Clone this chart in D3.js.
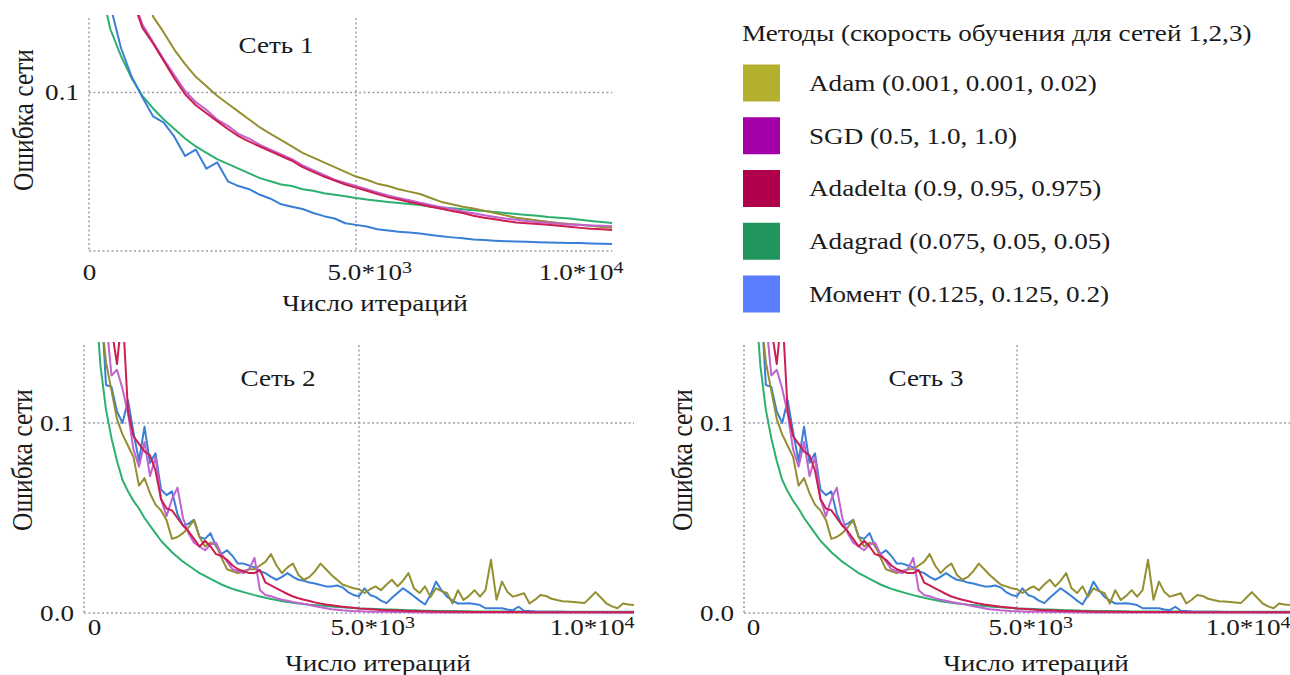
<!DOCTYPE html>
<html>
<head>
<meta charset="utf-8">
<script src="https://cdn.jsdelivr.net/npm/d3@7"></script>
<style>
body { margin: 0; background: #fff; }
svg { display: block; font-family: "Liberation Serif", "Times New Roman", serif; }
</style>
</head>
<body>
<svg width="1290" height="675"></svg>
<script>
// ---- data ----
// net 1: one point every 200 iterations, 0 .. 9800
var step1 = 200;
var adam1 = [0.40,0.33,0.28,0.24,0.205,0.175,0.148,0.138,0.127,0.118,
  0.110,0.104,0.098,0.093,0.088,0.083,0.078,0.074,0.070,0.066,
  0.062,0.059,0.056,0.053,0.050,0.047,0.045,0.0425,0.041,0.039,
  0.0375,0.036,0.0335,0.031,0.0295,0.028,0.0268,0.0255,0.024,0.0225,
  0.021,0.0202,0.0193,0.0184,0.0177,0.017,0.0165,0.016,0.0152,0.0146];
var sgd1 = [0.40,0.31,0.25,0.20,0.163,0.143,0.132,0.121,0.111,0.101,
  0.094,0.089,0.083,0.079,0.074,0.071,0.067,0.064,0.061,0.058,
  0.054,0.051,0.048,0.045,0.043,0.041,0.039,0.037,0.035,0.0335,
  0.032,0.0305,0.029,0.0277,0.0265,0.025,0.0238,0.0226,0.0215,0.0205,
  0.0197,0.019,0.0183,0.0178,0.0172,0.0168,0.0164,0.0161,0.0159,0.0157];
var adadelta1 = [0.40,0.31,0.25,0.20,0.16,0.141,0.131,0.120,0.109,0.099,
  0.092,0.087,0.082,0.077,0.0725,0.069,0.066,0.063,0.060,0.057,
  0.053,0.050,0.047,0.0445,0.042,0.040,0.038,0.036,0.034,0.0325,
  0.031,0.0295,0.028,0.0267,0.0253,0.024,0.0223,0.021,0.020,0.019,
  0.018,0.0175,0.017,0.0165,0.016,0.0153,0.0146,0.014,0.0137,0.0133];
var adagrad1 = [0.30,0.17,0.14,0.123,0.109,0.098,0.090,0.083,0.077,0.071,
  0.066,0.062,0.058,0.055,0.052,0.049,0.046,0.044,0.042,0.041,
  0.039,0.038,0.0365,0.0355,0.0345,0.0335,0.0325,0.0317,0.031,0.0303,
  0.0296,0.029,0.028,0.0275,0.027,0.0264,0.0258,0.0252,0.0246,0.024,
  0.0234,0.0228,0.0222,0.0215,0.021,0.0205,0.0198,0.019,0.0183,0.0177];
var moment1 = [0.30,0.19,0.155,0.128,0.110,0.097,0.085,0.081,0.072,0.060,
  0.064,0.052,0.056,0.044,0.041,0.039,0.0355,0.033,0.0295,0.028,
  0.0265,0.024,0.022,0.0205,0.0175,0.0165,0.0155,0.0137,0.013,0.0122,
  0.0117,0.011,0.0101,0.0093,0.0086,0.008,0.0073,0.0069,0.0065,0.0062,
  0.006,0.0058,0.0056,0.0054,0.0052,0.0051,0.005,0.0048,0.0046,0.0044];

// net 2 (net 3 is drawn the same): one point every 100 iterations, 0 .. 10000
var step2 = 100;
var adam2 = [0.45,0.30,0.21,0.16,0.132,0.117,0.102,0.094,0.088,0.082,
  0.067,0.071,0.063,0.057,0.054,0.049,0.039,0.040,0.042,0.045,
  0.049,0.040,0.035,0.037,0.036,0.029,0.023,0.022,0.021,0.022,
  0.023,0.023,0.025,0.027,0.031,0.025,0.021,0.024,0.026,0.020,
  0.0175,0.019,0.022,0.026,0.023,0.020,0.0175,0.015,0.014,0.013,
  0.0125,0.0105,0.0125,0.014,0.012,0.015,0.0175,0.014,0.017,0.021,
  0.013,0.0105,0.014,0.0085,0.013,0.0115,0.0105,0.005,0.012,0.0068,
  0.009,0.012,0.0086,0.012,0.028,0.007,0.0165,0.011,0.0086,0.0095,
  0.0104,0.005,0.007,0.0095,0.009,0.0075,0.0068,0.0062,0.006,0.0058,
  0.0055,0.0052,0.008,0.011,0.008,0.005,0.0035,0.0025,0.005,0.0045,
  0.0042];
var sgd2 = [0.50,0.35,0.25,0.19,0.155,0.125,0.128,0.118,0.105,0.086,
  0.077,0.090,0.072,0.082,0.060,0.051,0.060,0.066,0.050,0.042,
  0.037,0.035,0.033,0.036,0.037,0.031,0.027,0.023,0.022,0.021,
  0.023,0.029,0.012,0.0095,0.0088,0.0078,0.007,0.0064,0.0058,0.0053,
  0.0048,0.0042,0.0036,0.003,0.0025,0.002,0.0017,0.0014,0.0012,0.001,
  0.0009,0.0008,0.0007,0.0007,0.0006,0.0006,0.0005,0.0005,0.0005,0.0004,
  0.0004,0.0004,0.0004,0.0003,0.0003,0.0003,0.0003,0.0003,0.0003,0.0003,
  0.0003,0.0003,0.0003,0.0002,0.0002,0.0002,0.0002,0.0002,0.0002,0.0002,
  0.0002,0.0002,0.0002,0.0002,0.0002,0.0002,0.0002,0.0002,0.0002,0.0002,
  0.0002,0.0002,0.0002,0.0002,0.0002,0.0002,0.0002,0.0002,0.0002,0.0002,
  0.0002];
var adadelta2 = [0.60,0.45,0.33,0.25,0.19,0.15,0.131,0.16,0.106,0.093,
  0.089,0.085,0.083,0.075,0.060,0.055,0.054,0.050,0.046,0.043,
  0.039,0.035,0.038,0.035,0.031,0.030,0.028,0.025,0.023,0.022,
  0.021,0.021,0.0226,0.016,0.0145,0.013,0.0115,0.010,0.0087,0.0078,
  0.007,0.0063,0.0056,0.005,0.0045,0.0041,0.0037,0.0033,0.003,0.0027,
  0.0024,0.0022,0.002,0.0018,0.0016,0.0015,0.0014,0.0013,0.0012,0.0011,
  0.001,0.0009,0.0009,0.0008,0.0008,0.0007,0.0007,0.0006,0.0006,0.0006,
  0.0005,0.0005,0.0005,0.0005,0.0005,0.0005,0.0005,0.0005,0.0005,0.0005,
  0.0005,0.0004,0.0004,0.0004,0.0004,0.0004,0.0004,0.0004,0.0004,0.0004,
  0.0004,0.0004,0.0004,0.0004,0.0004,0.0004,0.0004,0.0004,0.0004,0.0004,
  0.0004];
var adagrad2 = [0.40,0.25,0.17,0.13,0.107,0.092,0.080,0.070,0.064,0.059,
  0.055,0.050,0.046,0.042,0.038,0.035,0.032,0.0295,0.027,0.025,
  0.023,0.021,0.0195,0.018,0.0165,0.015,0.0138,0.0127,0.0118,0.011,
  0.0102,0.0094,0.0087,0.008,0.0074,0.0068,0.0062,0.0058,0.0054,0.005,
  0.0047,0.0044,0.0042,0.004,0.0037,0.0034,0.0032,0.003,0.0028,0.0026,
  0.0024,0.0023,0.0022,0.0021,0.002,0.0019,0.0018,0.0017,0.0016,0.0015,
  0.0014,0.0013,0.0012,0.0012,0.0011,0.0011,0.001,0.001,0.0009,0.0009,
  0.0009,0.0008,0.0008,0.0008,0.0008,0.0008,0.0008,0.0008,0.0008,0.0008,
  0.0008,0.0007,0.0007,0.0007,0.0007,0.0007,0.0007,0.0007,0.0007,0.0007,
  0.0007,0.0006,0.0006,0.0006,0.0006,0.0006,0.0006,0.0006,0.0006,0.0006,
  0.0006];
var moment2 = [0.50,0.35,0.24,0.17,0.120,0.119,0.106,0.100,0.112,0.095,
  0.080,0.098,0.079,0.084,0.065,0.062,0.064,0.052,0.046,0.047,
  0.049,0.040,0.039,0.042,0.035,0.031,0.033,0.030,0.026,0.026,
  0.025,0.024,0.022,0.021,0.019,0.0175,0.019,0.021,0.019,0.0175,
  0.017,0.016,0.0155,0.0147,0.014,0.0139,0.0145,0.0135,0.011,0.0095,
  0.0088,0.013,0.0095,0.0085,0.0065,0.0052,0.008,0.0105,0.013,0.011,
  0.0088,0.0065,0.0045,0.0095,0.0165,0.012,0.0086,0.0065,0.005,0.005,
  0.0051,0.0047,0.0042,0.0025,0.0025,0.0025,0.0025,0.0018,0.0015,0.0033,
  0.0012,0.001,0.0008,0.0007,0.0006,0.0006,0.0006,0.0006,0.0005,0.0005,
  0.0005,0.0005,0.0005,0.0005,0.0005,0.0004,0.0004,0.0004,0.0004,0.0004,
  0.0004];

var methods = ["Adam", "SGD", "Adadelta", "Adagrad", "Момент"];
var rates = ["(0.001, 0.001, 0.02)", "(0.5, 1.0, 1.0)", "(0.9, 0.95, 0.975)",
  "(0.075, 0.05, 0.05)", "(0.125, 0.125, 0.2)"];
var swatchColors = ["#b2b02c", "#a200a8", "#b0004c", "#20955d", "#5a7cff"];
var lineColors = ["#948f30", "#c262d0", "#cc1e50", "#2cb06e", "#3a7fd6"];
var legendTitle = "Методы (скорость обучения для сетей 1,2,3)";
var xTicks = [0, 5000, 10000];
var xTitle = "Число итераций";
var yTitle = "Ошибка сети";

var svg = d3.select("svg");
var ink = "#1a1a1a";
var gridColor = "#9d9dae";
var sx = 1.18;   // the source picture is stretched sideways, so is its text

// text drawn at (x, y), widened by sx around its anchor
function wideText(parent, x, y, str, size, anchor) {
  return parent.append("g").attr("transform", "translate(" + x + "," + y + ") scale(" + sx + ",1)")
    .append("text").attr("text-anchor", anchor || "start").attr("dominant-baseline", "central")
    .attr("font-size", size).attr("fill", ink).text(str);
}

function drawPanel(p) {
  var x = d3.scaleLinear().domain([0, 10000]).range([p.left, p.x10k]);
  var y = d3.scaleLinear().domain([0, p.yMax]).range([p.bottom, p.top]);
  var right = x(p.xEnd);
  var g = svg.append("g");

  // dotted grid
  g.selectAll(".vgrid").data([0, 5000]).enter().append("line")
    .attr("x1", function(d) { return x(d); }).attr("x2", function(d) { return x(d); })
    .attr("y1", p.top + 3).attr("y2", p.bottom)
    .attr("stroke", gridColor).attr("stroke-width", 1.5).attr("stroke-dasharray", "2,2.5");
  g.selectAll(".hgrid").data([0, 0.1]).enter().append("line")
    .attr("x1", p.left).attr("x2", right)
    .attr("y1", function(d) { return y(d); }).attr("y2", function(d) { return y(d); })
    .attr("stroke", gridColor).attr("stroke-width", 1.5).attr("stroke-dasharray", "2,2.5");

  // y axis labels
  var gy = g.append("g").attr("transform", "translate(" + p.left + ",0)")
    .call(d3.axisLeft(y).tickValues(p.yTicks).tickSize(0).tickPadding(10).tickFormat(d3.format(".1f")));
  gy.select(".domain").remove();
  gy.selectAll(".tick text")
    .attr("font-size", 23).attr("fill", ink).attr("font-family", "Liberation Serif, serif")
    .attr("x", -10 / sx).attr("transform", "scale(" + sx + ",1)");

  // x axis labels
  var gx = g.append("g").attr("transform", "translate(0," + p.bottom + ")")
    .call(d3.axisBottom(x).tickValues(xTicks).tickSize(0).tickFormat(function() { return ""; }));
  gx.select(".domain").remove();
  gx.selectAll(".tick text").each(function(d) {
    var t = d3.select(this).attr("font-size", 23).attr("fill", ink)
      .attr("font-family", "Liberation Serif, serif")
      .attr("transform", "scale(" + sx + ",1)")
      .attr("y", p.xLabelY).attr("dy", "0.35em");
    if (d === 0) {
      t.attr("text-anchor", "middle").attr("x", p.zeroDx / sx).text("0");
    } else {
      t.attr("text-anchor", d === 5000 ? "start" : "end").attr("x", d === 5000 ? -29 / sx : 0);
      t.append("tspan").text(d === 5000 ? "5.0*10" : "1.0*10");
      t.append("tspan").attr("dy", "-0.42em").attr("font-size", 17).text(d === 5000 ? "3" : "4");
    }
  });

  // clip + lines
  var clipId = "clip" + p.id;
  svg.append("clipPath").attr("id", clipId).append("rect")
    .attr("x", p.left).attr("y", p.top).attr("width", right - p.left).attr("height", p.bottom - p.top + 2);
  var line = d3.line()
    .x(function(d) { return x(d[0]); })
    .y(function(d) { return y(d[1]); });
  var order = [3, 4, 0, 1, 2];
  g.append("g").attr("clip-path", "url(#" + clipId + ")")
    .selectAll("path").data(order).enter().append("path")
    .attr("d", function(k) {
      return line(p.series[k].map(function(v, i) { return [i * p.step, v]; }));
    })
    .attr("fill", "none")
    .attr("stroke", function(k) { return lineColors[k]; })
    .attr("stroke-width", 2)
    .attr("stroke-linejoin", "round");

  // titles
  wideText(g, p.titlePos[0], p.titlePos[1], p.title, 23, "middle");
  wideText(g, x(5000) + 19, p.bottom + p.xTitleDy, xTitle, 23, "middle");
  g.append("text")
    .attr("transform", "translate(" + p.yTitlePos[0] + "," + p.yTitlePos[1] + ") rotate(-90) scale(1," + sx + ")")
    .attr("text-anchor", "middle").attr("dominant-baseline", "central")
    .attr("font-size", 25.5).attr("fill", ink).text(yTitle);
}

drawPanel({ id: 1, left: 89, x10k: 623, xEnd: 9800, top: 15, bottom: 251, yMax: 0.149,
  yTicks: [0.1], step: step1, series: [adam1, sgd1, adadelta1, adagrad1, moment1],
  xLabelY: 21, zeroDx: 0, xTitleDy: 52, title: "Сеть 1", titlePos: [276, 45], yTitlePos: [23, 120] });
drawPanel({ id: 2, left: 84, x10k: 634, xEnd: 10000, top: 342, bottom: 613, yMax: 0.1426,
  yTicks: [0, 0.1], step: step2, series: [adam2, sgd2, adadelta2, adagrad2, moment2],
  xLabelY: 14, zeroDx: 10, xTitleDy: 50, title: "Сеть 2", titlePos: [278, 378], yTitlePos: [22, 460] });
drawPanel({ id: 3, left: 744, x10k: 1290, xEnd: 10000, top: 342, bottom: 613, yMax: 0.1426,
  yTicks: [0, 0.1], step: step2, series: [adam2, sgd2, adadelta2, adagrad2, moment2],
  xLabelY: 14, zeroDx: 9, xTitleDy: 50, title: "Сеть 3", titlePos: [926, 378], yTitlePos: [682, 460] });

// legend
var lg = svg.append("g");
wideText(lg, 742, 33, legendTitle, 23, "start");
var items = lg.selectAll(".item").data(methods).enter().append("g")
  .attr("transform", function(d, i) { return "translate(743," + (83 + i * 52.75) + ")"; });
items.append("rect").attr("x", 0).attr("y", -18.5).attr("width", 37).attr("height", 37)
  .attr("fill", function(d, i) { return swatchColors[i]; });
items.each(function(d, i) {
  wideText(d3.select(this), 66, 0, d + " " + rates[i], 23, "start");
});
</script>
</body>
</html>
